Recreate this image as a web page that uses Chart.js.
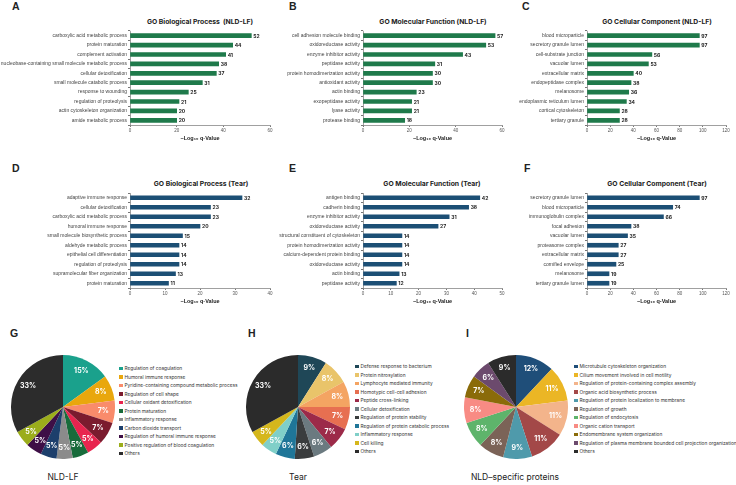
<!DOCTYPE html>
<html>
<head>
<meta charset="utf-8">
<title>GO enrichment NLD-LF / Tear</title>
<script src="https://cdn.jsdelivr.net/npm/chart.js"></script>
<style>
  body { margin:0; width:736px; height:485px; background:#fff; position:relative; overflow:hidden;
         font-family: Inter, "Liberation Sans", Arial, sans-serif; color:#222; }
  .box { position:absolute; }
  .letter { position:absolute; font: bold 10.5px "Liberation Sans", Arial, sans-serif; line-height:10px; }
  .ttl { position:absolute; width:160px; text-align:center; font-weight:700; font-size:6.8px; line-height:8px; }
  .leg { position:absolute; font-size:4.8px; line-height:8.5px; color:#333; white-space:nowrap; }
  .leg i { display:inline-block; width:3.5px; height:3.5px; margin-right:2px; vertical-align:middle; }
  .cap { position:absolute; width:160px; text-align:center; font-size:8.5px; line-height:10px; }
</style>
</head>
<body>
  <div class="letter" style="left:12px;top:1px">A</div>
  <div class="letter" style="left:289px;top:1px">B</div>
  <div class="letter" style="left:522px;top:1px">C</div>
  <div class="letter" style="left:12px;top:163px">D</div>
  <div class="letter" style="left:289px;top:163px">E</div>
  <div class="letter" style="left:524px;top:163px">F</div>
  <div class="letter" style="left:10px;top:328px">G</div>
  <div class="letter" style="left:248px;top:328px">H</div>
  <div class="letter" style="left:466px;top:328px">I</div>

  <div class="ttl" style="left:120px;top:18px">GO Biological Process&nbsp; (NLD-LF)</div>
  <div class="ttl" style="left:353px;top:18px">GO Molecular Function (NLD-LF)</div>
  <div class="ttl" style="left:577px;top:18px">GO Cellular Component (NLD-LF)</div>
  <div class="ttl" style="left:121px;top:180px">GO Biological Process (Tear)</div>
  <div class="ttl" style="left:352px;top:180px">GO Molecular Function (Tear)</div>
  <div class="ttl" style="left:577px;top:180px">GO Cellular Component (Tear)</div>

  <div class="box" style="left:0px;top:25px;width:280px;height:125px"><canvas id="bpLf"></canvas></div>
  <div class="box" style="left:233px;top:25px;width:279px;height:125px"><canvas id="mfLf"></canvas></div>
  <div class="box" style="left:457px;top:25px;width:279px;height:125px"><canvas id="ccLf"></canvas></div>
  <div class="box" style="left:0px;top:187px;width:280px;height:126px"><canvas id="bpTear"></canvas></div>
  <div class="box" style="left:233px;top:187px;width:279px;height:126px"><canvas id="mfTear"></canvas></div>
  <div class="box" style="left:457px;top:187px;width:279px;height:126px"><canvas id="ccTear"></canvas></div>

  <div class="box" style="left:11px;top:355px;width:104px;height:104px"><canvas id="pieLf"></canvas></div>
  <div class="box" style="left:246px;top:355px;width:104px;height:104px"><canvas id="pieTear"></canvas></div>
  <div class="box" style="left:464px;top:355px;width:104px;height:104px"><canvas id="pieNld"></canvas></div>

  <div class="leg" id="legLf" style="left:119px;top:364px"></div>
  <div class="leg" id="legTear" style="left:355px;top:362px"></div>
  <div class="leg" id="legNld" style="left:574px;top:362px"></div>

  <div class="cap" style="left:-17px;top:472px">NLD-LF</div>
  <div class="cap" style="left:218px;top:472px">Tear</div>
  <div class="cap" style="left:435px;top:472px">NLD–specific proteins</div>

<script>
// ---- bar panels (values are -log10 q) ----
const bpLfLabels = ['carboxylic acid metabolic process', 'protein maturation', 'complement activation',
  'nucleobase-containing small molecule metabolic process', 'cellular detoxification',
  'small molecule catabolic process', 'response to wounding', 'regulation of proteolysis',
  'actin cytoskeleton organization', 'amide metabolic process'];
const bpLfValues = [52, 44, 41, 38, 37, 31, 25, 21, 20, 20];

const mfLfLabels = ['cell adhesion molecule binding', 'oxidoreductase activity', 'enzyme inhibitor activity',
  'peptidase activity', 'protein homodimerization activity', 'antioxidant activity', 'actin binding',
  'exopeptidase activity', 'lyase activity', 'protease binding'];
const mfLfValues = [57, 53, 43, 31, 30, 30, 23, 21, 21, 18];

const ccLfLabels = ['blood microparticle', 'secretory granule lumen', 'cell-substrate junction', 'vacuolar lumen',
  'extracellular matrix', 'endopeptidase complex', 'melanosome', 'endoplasmic reticulum lumen',
  'cortical cytoskeleton', 'tertiary granule'];
const ccLfValues = [97, 97, 56, 53, 40, 38, 36, 34, 28, 28];

const bpTearLabels = ['adaptive immune response', 'cellular detoxification', 'carboxylic acid metabolic process',
  'humoral immune response', 'small molecule biosynthetic process', 'aldehyde metabolic process',
  'epithelial cell differentiation', 'regulation of proteolysis', 'supramolecular fiber organization',
  'protein maturation'];
const bpTearValues = [32, 23, 23, 20, 15, 14, 14, 14, 13, 11];

const mfTearLabels = ['antigen binding', 'cadherin binding', 'enzyme inhibitor activity', 'oxidoreductase activity',
  'structural constituent of cytoskeleton', 'protein homodimerization activity',
  'calcium-dependent protein binding', 'oxidoreductase activity', 'actin binding', 'peptidase activity'];
const mfTearValues = [42, 38, 31, 27, 14, 14, 14, 14, 13, 12];

const ccTearLabels = ['secretory granule lumen', 'blood microparticle', 'immunoglobulin complex', 'focal adhesion',
  'vacuolar lumen', 'proteasome complex', 'extracellular matrix', 'cornified envelope', 'melanosome',
  'tertiary granule lumen'];
const ccTearValues = [97, 74, 66, 38, 35, 27, 27, 25, 19, 19];

// ---- pies (percent) ----
const pieLfLabels = ['Regulation of coagulation', 'Humoral immune response',
  'Pyridine-containing compound metabolic process', 'Regulation of cell shape', 'Cellular oxidant detoxification',
  'Protein maturation', 'Inflammatory response', 'Carbon dioxide transport',
  'Regulation of humoral immune response', 'Positive regulation of blood coagulation', 'Others'];
const pieLfValues = [15, 8, 7, 7, 5, 5, 5, 5, 5, 5, 33];
const pieLfColors = ['#1aa18c', '#e9a70d', '#f98b6b', '#7b1b2e', '#e8254f', '#186b3b', '#8b8b8b',
  '#1d3f6c', '#3e0f46', '#9bad1b', '#2c2c2c'];

const pieTearLabels = ['Defense response to bacterium', 'Protein nitrosylation', 'Lymphocyte mediated immunity',
  'Homotypic cell-cell adhesion', 'Peptide cross-linking', 'Cellular detoxification',
  'Regulation of protein stability', 'Regulation of protein catabolic process', 'Inflammatory response',
  'Cell killing', 'Others'];
const pieTearValues = [9, 8, 8, 7, 7, 6, 6, 6, 5, 5, 33];
const pieTearColors = ['#1f4757', '#e9c46a', '#f4a462', '#e76f51', '#9c2a49', '#6b7a80', '#3a3d3e',
  '#1f7698', '#80cfc8', '#d5b71c', '#2b2b2b'];

const pieNldLabels = ['Microtubule cytoskeleton organization', 'Cilium movement involved in cell motility',
  'Regulation of protein-containing complex assembly', 'Organic acid biosynthetic process',
  'Regulation of protein localization to membrane', 'Regulation of growth', 'Regulation of endocytosis',
  'Organic cation transport', 'Endomembrane system organization',
  'Regulation of plasma membrane bounded cell projection organization', 'Others'];
const pieNldValues = [12, 11, 11, 11, 9, 8, 8, 8, 7, 6, 9];
const pieNldColors = ['#1f4e79', '#ebb625', '#f3b48b', '#a34848', '#4f9aab', '#7b6357', '#5eb46b',
  '#f88b84', '#8a6b09', '#6c4a6d', '#2b2b2b'];

const green = '#1f7a4b';
const blue = '#1c4f75';

// numbers at the end of each bar
const valueLabels = {
  id: 'valueLabels',
  afterDatasetsDraw(chart) {
    const ctx = chart.ctx;
    const meta = chart.getDatasetMeta(0);
    ctx.save();
    ctx.font = 'bold 5px Inter, sans-serif';
    ctx.fillStyle = '#222';
    ctx.textBaseline = 'middle';
    meta.data.forEach((bar, i) => {
      ctx.fillText(chart.data.datasets[0].data[i], bar.x + 2, bar.y + 0.5);
    });
    ctx.restore();
  }
};

function barChart(id, labels, values, color, max, step) {
  new Chart(document.getElementById(id), {
    type: 'bar',
    data: { labels: labels, datasets: [{ data: values, backgroundColor: color, barThickness: 4 }] },
    options: {
      indexAxis: 'y',
      responsive: true,
      maintainAspectRatio: false,
      animation: false,
      layout: { padding: { top: 6, right: 10, bottom: 1, left: 0 } },
      plugins: { legend: { display: false }, tooltip: { enabled: false } },
      scales: {
        x: {
          min: 0, max: max,
          ticks: { stepSize: step, font: { size: 4.5 }, color: '#555', padding: 1, maxRotation: 0 },
          grid: { drawOnChartArea: false, tickLength: 2, color: '#777' },
          border: { color: '#777', width: 0.7 },
          title: { display: true, text: '−Log₁₀ q-Value', color: '#222',
                   font: { size: 5.5, weight: 'bold' }, padding: { top: 0, bottom: 7 } },
          afterFit: s => { s.height = 24; }
        },
        y: {
          ticks: { font: { size: 5 }, color: '#444', padding: 1, autoSkip: false },
          grid: { drawOnChartArea: false, tickLength: 2, color: '#777' },
          border: { color: '#777', width: 0.7 },
          afterFit: s => { s.width = 130; }
        }
      }
    },
    plugins: [valueLabels]
  });
}

barChart('bpLf', bpLfLabels, bpLfValues, green, 60, 20);
barChart('mfLf', mfLfLabels, mfLfValues, green, 60, 20);
barChart('ccLf', ccLfLabels, ccLfValues, green, 120, 20);
barChart('bpTear', bpTearLabels, bpTearValues, blue, 40, 10);
barChart('mfTear', mfTearLabels, mfTearValues, blue, 50, 10);
barChart('ccTear', ccTearLabels, ccTearValues, blue, 120, 20);

// percent text inside slices
const pctLabels = {
  id: 'pctLabels',
  afterDatasetsDraw(chart) {
    const ctx = chart.ctx;
    const meta = chart.getDatasetMeta(0);
    ctx.save();
    ctx.font = 'bold 7px Inter, sans-serif';
    ctx.fillStyle = '#fff';
    ctx.textAlign = 'center';
    ctx.textBaseline = 'middle';
    meta.data.forEach((arc, i) => {
      const mid = (arc.startAngle + arc.endAngle) / 2;
      const r = arc.outerRadius * 0.78;
      ctx.fillText(chart.data.datasets[0].data[i] + '%', arc.x + Math.cos(mid) * r, arc.y + Math.sin(mid) * r);
    });
    ctx.restore();
  }
};

function pieChart(id, legId, labels, values, colors) {
  new Chart(document.getElementById(id), {
    type: 'pie',
    data: { labels: labels, datasets: [{ data: values, backgroundColor: colors, borderWidth: 0 }] },
    options: {
      responsive: true,
      maintainAspectRatio: false,
      animation: false,
      layout: { padding: 0 },
      plugins: { legend: { display: false }, tooltip: { enabled: false } }
    },
    plugins: [pctLabels]
  });
  const leg = document.getElementById(legId);
  leg.innerHTML = labels.map((l, i) => `<div><i style="background:${colors[i]}"></i>${l}</div>`).join('');
}

pieChart('pieLf', 'legLf', pieLfLabels, pieLfValues, pieLfColors);
pieChart('pieTear', 'legTear', pieTearLabels, pieTearValues, pieTearColors);
pieChart('pieNld', 'legNld', pieNldLabels, pieNldValues, pieNldColors);
</script>
</body>
</html>
